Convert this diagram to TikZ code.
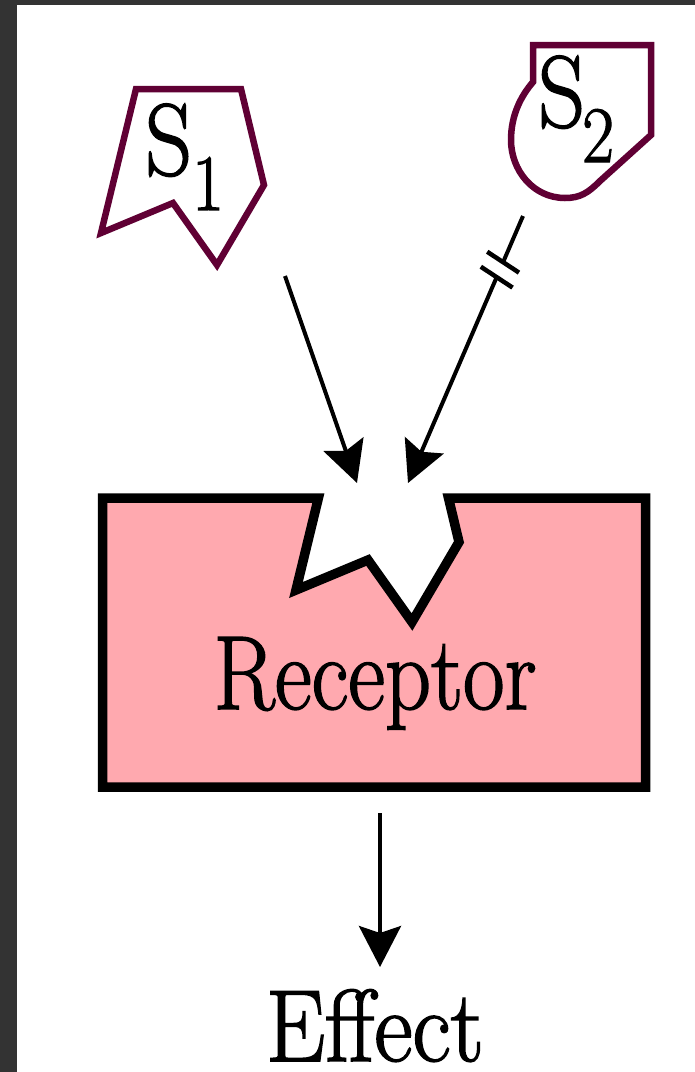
\documentclass[tikz,border=0pt]{standalone}
\usepackage{graphicx}
\usepackage{fontspec}
\usetikzlibrary{arrows.meta,calc}
\newfontfamily\heavyserif{Latin Modern Roman}[FakeBold=1.6]
\definecolor{framegray}{RGB}{51,51,51}
\definecolor{ligand}{RGB}{96,0,52}
\definecolor{receptorpink}{RGB}{255,169,175}
\begin{document}
\begin{tikzpicture}[x=1pt,y=-1pt,
  arr/.style={line width=4pt,-{Stealth[length=41pt,width=42pt,inset=7pt]}},
  shaft/.style={line width=4pt},
  blockbar/.style={line width=4.5pt},
  ligandline/.style={draw=ligand,line width=6.5pt,line join=miter,fill=white},
  lbl/.style={inner sep=0pt,anchor=base west},
  bigtext/.style={inner sep=0pt,anchor=base}]

% canvas and dark frame strips
\fill[white] (0,0) rectangle (695,1072);
\useasboundingbox (0,0) rectangle (695,1072);
\fill[framegray] (0,0) rectangle (17,1072);
\fill[framegray] (0,0) rectangle (695,5);

% ligand S1 (its outline matches the receptor's binding site)
\draw[ligandline] (136,89) -- (241,89) -- (264,185) -- (217,265) -- (173,203) -- (101,233) -- cycle;
\node[lbl] (s1label) at (145,175) {\heavyserif\fontsize{102}{102}\selectfont\scalebox{0.9}[1]{S}\raisebox{-35pt}{\fontsize{80}{80}\selectfont\scalebox{0.87}[1]{1}}};

% ligand S2 (rounded lower side, does not fit)
\draw[ligandline] (533,45) -- (651,45) -- (651,135) -- (600,181)
  .. controls (588,193) and (580,198) .. (565,198)
  .. controls (533,198) and (511,170) .. (511,140)
  .. controls (511,115) and (521,96) .. (533,82) -- cycle;
\node[lbl] (s2label) at (538,127) {\heavyserif\fontsize{102}{102}\selectfont\scalebox{0.9}[1]{S}\kern-3pt\raisebox{-35pt}{\fontsize{80}{80}\selectfont\scalebox{0.87}[1]{2}}};

% receptor with binding notch
\draw[line width=9.5pt,fill=receptorpink,line join=miter]
  (102.5,498) -- (318.4,498) -- (296,590) -- (368,560) -- (412,622)
  -- (459,542) -- (448.5,498) -- (645.5,498) -- (645.5,787) -- (102.5,787) -- cycle;
\node[bigtext] (receptor) at (375,709) {\heavyserif\fontsize{105}{105}\selectfont\scalebox{0.86}[1]{Receptor}};

% effect label
\node[bigtext] (effect) at (375,1061) {\heavyserif\fontsize{102}{102}\selectfont\scalebox{0.92}[1]{Effect}};

% arrow endpoints
\coordinate (s1tail) at (285,276);
\coordinate (s1head) at (357,483);
\coordinate (s2tail) at (523,216);
\coordinate (s2head) at (408,483);
\coordinate (etail) at (380,813);
\coordinate (ehead) at (380,967);

% S1 binds
\draw[arr] (s1tail) -- (s1head);

% S2 is blocked: interrupted shaft with two bars
\coordinate (b1) at ($(s2tail)!0.173!(s2head)$);
\coordinate (b2) at ($(s2tail)!0.229!(s2head)$);
\draw[shaft] (s2tail) -- (b1);
\draw[arr] (b2) -- (s2head);
\draw[blockbar] ($(b1)!19pt!80:(s2head)$) -- ($(b1)!19pt!-100:(s2head)$);
\draw[blockbar] ($(b2)!19pt!80:(s2head)$) -- ($(b2)!19pt!-100:(s2head)$);

% receptor produces effect
\draw[arr] (etail) -- (ehead);
\end{tikzpicture}
\end{document}
